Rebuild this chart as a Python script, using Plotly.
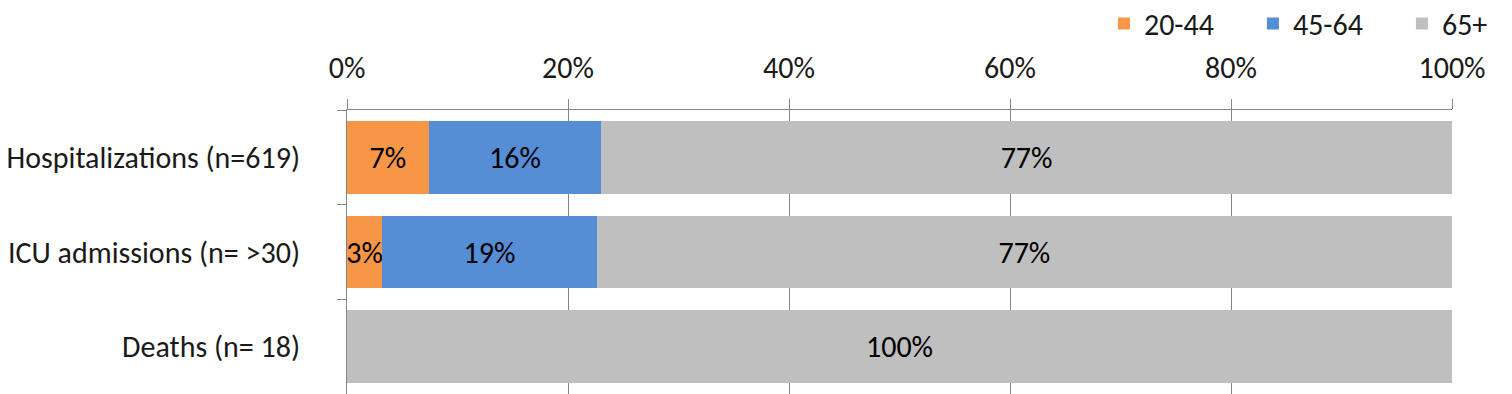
import plotly.graph_objects as go

categories = ["Hospitalizations (n=619)", "ICU admissions (n= >30)", "Deaths (n= 18)"]
series_names = ["20-44", "45-64", "65+"]
age_20_44 = [7.4, 3.2, 0.0]
age_45_64 = [15.6, 19.4, 0.0]
age_65_plus = [77.0, 77.4, 100.0]
colors = ["#F79646", "#558ED5", "#BFBFBF"]
x_ticks = [0, 20, 40, 60, 80, 100]

FONT = "Carlito, Liberation Sans, Arial, sans-serif"
FS = 30

fig = go.Figure()
for name, vals, col in zip(series_names, [age_20_44, age_45_64, age_65_plus], colors):
    fig.add_trace(go.Bar(
        y=categories, x=vals, name=name, orientation="h",
        marker=dict(color=col, line=dict(width=0)),
        text=[f"{v:.0f}%" if v > 0 else "" for v in vals],
        textposition="inside", insidetextanchor="middle", textangle=0,
        constraintext="none",
        textfont=dict(family=FONT, size=FS, color="#000000"),
        hoverinfo="skip",
    ))

fig.update_layout(
    barmode="stack", bargap=0.23,
    width=1512, height=394,
    margin=dict(l=347, r=60, t=110, b=0, autoexpand=False),
    paper_bgcolor="white", plot_bgcolor="white",
    font=dict(family=FONT, size=FS, color="#1a1a1a"),
    legend=dict(orientation="h", x=0.685, xanchor="left", y=1.305, yanchor="middle",
                traceorder="normal", font=dict(family=FONT, size=FS, color="#1a1a1a"),
                entrywidth=104, itemclick=False),
    showlegend=True,
)
fig.update_xaxes(
    side="top", range=[0, 100], tickvals=x_ticks, ticktext=[f"{t}%" for t in x_ticks],
    showgrid=True, gridcolor="#868686", gridwidth=1,
    showline=True, linecolor="#868686", linewidth=1,
    ticks="outside", ticklen=10, tickcolor="#868686",
    ticklabelstandoff=9, zeroline=False, automargin=False,
)
fig.update_yaxes(
    categoryorder="array", categoryarray=categories, autorange="reversed",
    tickson="boundaries", ticks="outside", ticklen=9, tickcolor="#868686",
    showline=True, linecolor="#868686", linewidth=1, showgrid=False,
    ticklabelstandoff=40, automargin=False,
)
fig.write_html("out.html")
